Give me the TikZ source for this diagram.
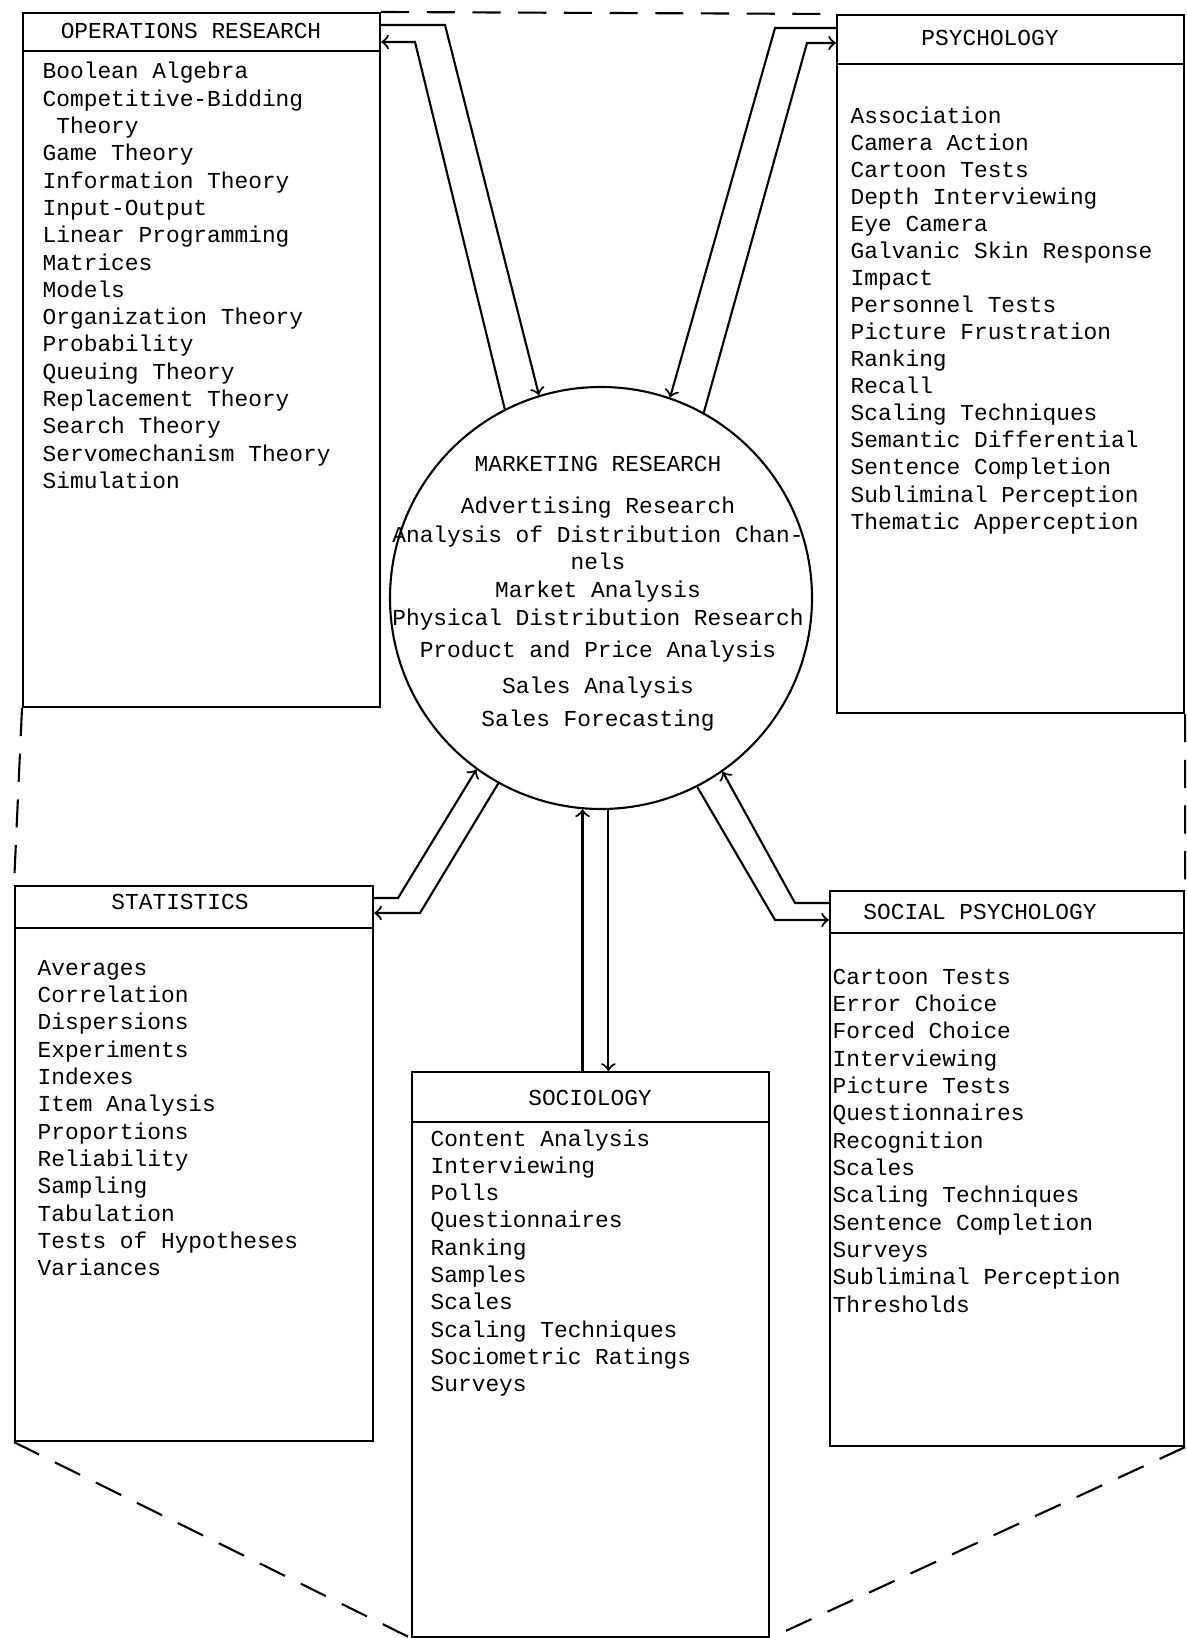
\documentclass[tikz,border=0pt]{standalone}
\usepackage{fontspec}
\setmonofont{Liberation Mono}
\usepackage{tikz}

\tikzset{
  catbox/.style={draw, line width=0.6pt, inner sep=0pt, anchor=north west},
  entry/.style={font=\ttfamily\fontsize{6.5}{7.8}\selectfont, inner sep=0pt, anchor=base west},
  headtext/.style={entry, anchor=base},
  arrowlink/.style={->, line width=0.6pt},
  dashedlink/.style={line width=0.6pt, dash pattern=on 8pt off 5pt},
}

\begin{document}
\begin{tikzpicture}
    \useasboundingbox (0,0) rectangle (11.86,-16.38);

    % Draw the five boxes and the circle
    \node[catbox, minimum width=3.57cm, minimum height=6.94cm] (orbox) at (0.22,-0.12) {};
    \node[catbox, minimum width=3.47cm, minimum height=6.98cm] (psybox) at (8.36,-0.14) {};
    \node[catbox, minimum width=3.58cm, minimum height=5.55cm] (statbox) at (0.14,-8.85) {};
    \node[catbox, minimum width=3.57cm, minimum height=5.65cm] (socbox) at (4.11,-10.71) {};
    \node[catbox, minimum width=3.54cm, minimum height=5.55cm] (socpsybox) at (8.29,-8.90) {};
    \node[draw, circle, line width=0.6pt, minimum size=4.22cm, inner sep=0pt] (mr) at (6.01,-5.98) {};

    % Draw the header lines
    \draw[line width=0.6pt] (orbox.west |- 0,-0.51) -- (orbox.east |- 0,-0.51);
    \draw[line width=0.6pt] (psybox.west |- 0,-0.64) -- (psybox.east |- 0,-0.64);
    \draw[line width=0.6pt] (statbox.west |- 0,-9.28) -- (statbox.east |- 0,-9.28);
    \draw[line width=0.6pt] (socbox.west |- 0,-11.22) -- (socbox.east |- 0,-11.22);
    \draw[line width=0.6pt] (socpsybox.west |- 0,-9.33) -- (socpsybox.east |- 0,-9.33);

    % Titles
    \node[headtext] (ortitle) at (1.91,-0.39) {OPERATIONS RESEARCH};
    \node[headtext] (psytitle) at (9.90,-0.46) {PSYCHOLOGY};
    \node[headtext] (stattitle) at (1.80,-9.09) {STATISTICS};
    \node[headtext] (soctitle) at (5.90,-11.05) {SOCIOLOGY};
    \node[headtext] (socpsytitle) at (9.80,-9.19) {SOCIAL PSYCHOLOGY};
    \node[headtext] (mrtitle) at (5.98,-4.72) {MARKETING RESEARCH};

    % Lists of techniques
    \foreach \t [count=\i] in {Boolean Algebra, Competitive-Bidding, ~Theory, Game Theory,
        Information Theory, Input-Output, Linear Programming, Matrices, Models,
        Organization Theory, Probability, Queuing Theory, Replacement Theory,
        Search Theory, Servomechanism Theory, Simulation}
      \node[entry] (or\i) at (0.42,{-0.79-0.273*(\i-1)}) {\t};
    \foreach \t [count=\i] in {Association, Camera Action, Cartoon Tests, Depth Interviewing,
        Eye Camera, Galvanic Skin Response, Impact, Personnel Tests, Picture Frustration,
        Ranking, Recall, Scaling Techniques, Semantic Differential, Sentence Completion,
        Subliminal Perception, Thematic Apperception}
      \node[entry] (psy\i) at (8.50,{-1.24-0.270*(\i-1)}) {\t};
    \foreach \t [count=\i] in {Averages, Correlation, Dispersions, Experiments, Indexes,
        Item Analysis, Proportions, Reliability, Sampling, Tabulation,
        Tests of Hypotheses, Variances}
      \node[entry] (stat\i) at (0.37,{-9.75-0.2736*(\i-1)}) {\t};
    \foreach \t [count=\i] in {Content Analysis, Interviewing, Polls, Questionnaires, Ranking,
        Samples, Scales, Scaling Techniques, Sociometric Ratings, Surveys}
      \node[entry] (soc\i) at (4.30,{-11.46-0.273*(\i-1)}) {\t};
    \foreach \t [count=\i] in {Cartoon Tests, Error Choice, Forced Choice, Interviewing,
        Picture Tests, Questionnaires, Recognition, Scales, Scaling Techniques,
        Sentence Completion, Surveys, Subliminal Perception, Thresholds}
      \node[entry] (socpsy\i) at (8.32,{-9.84-0.2735*(\i-1)}) {\t};
    \foreach \y/\t [count=\i] in {5.14/Advertising Research, 5.43/Analysis of Distribution Chan-,
        5.70/nels, 5.98/Market Analysis, 6.26/Physical Distribution Research,
        6.58/Product and Price Analysis, 6.94/Sales Analysis, 7.27/Sales Forecasting}
      \node[headtext] (mr\i) at (5.98,-\y) {\t};

    % Arrows to and from marketing research
    \draw[arrowlink] (orbox.east |- 0,-0.25) -- (4.45,-0.25) -- (mr.107);
    \draw[arrowlink] (mr.117) -- (4.15,-0.42) -- (orbox.east |- 0,-0.42);
    \draw[arrowlink] (psybox.west |- 0,-0.28) -- (7.75,-0.28) -- (mr.71);
    \draw[arrowlink] (mr.61) -- (8.07,-0.43) -- (psybox.west |- 0,-0.43);
    \draw[arrowlink] (statbox.east |- 0,-8.98) -- (3.98,-8.98) -- (mr.234);
    \draw[arrowlink] (mr.241) -- (4.20,-9.13) -- (statbox.east |- 0,-9.13);
    \draw[arrowlink] (socbox.north -| mr.265) -- (mr.265);
    \draw[arrowlink] (mr.272) -- (socbox.north -| mr.272);
    \draw[arrowlink] (socpsybox.west |- 0,-9.03) -- (7.95,-9.03) -- (mr.305);
    \draw[arrowlink] (mr.297) -- (7.75,-9.20) -- (socpsybox.west |- 0,-9.20);

    % Dashed outline joining the boxes
    \draw[dashedlink] (orbox.north east) -- (psybox.north west);
    \draw[dashedlink] (orbox.south west) -- (statbox.north west);
    \draw[dashedlink] (psybox.south east) -- (socpsybox.north east);
    \draw[dashedlink] (statbox.south west) -- (socbox.south west);
    \draw[dashedlink] (socpsybox.south east) -- (socbox.south east);

\end{tikzpicture}
\end{document}
